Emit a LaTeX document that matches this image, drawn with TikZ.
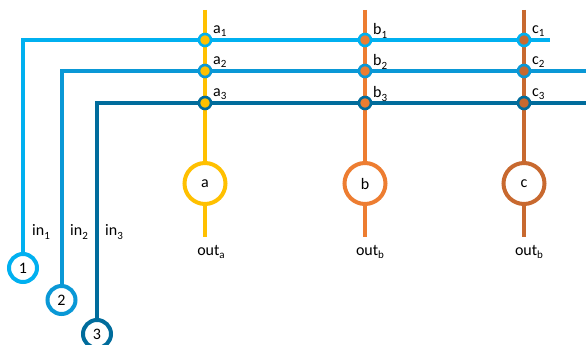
\documentclass[tikz,border=0pt]{standalone}
\usepackage{fontspec}
\setmainfont{Carlito}
\newcommand\sbs[1]{\raisebox{-0.45ex}{\fontsize{11}{11}\selectfont #1}}
\definecolor{cin1}{HTML}{00B0F0}
\definecolor{cin2}{HTML}{0A98D6}
\definecolor{cin3}{HTML}{006C9C}
\definecolor{ca}{HTML}{FFC000}
\definecolor{cb}{HTML}{ED7D31}
\definecolor{cc}{HTML}{C8692F}
\begin{document}
\begin{tikzpicture}[x=1pt,y=-1pt,
  wire/.style={line width=4pt},
  bigc/.style={circle,draw,line width=4pt,fill=white,minimum size=41pt,inner sep=0pt,font=\fontsize{16}{16}\selectfont},
  inc/.style={circle,draw,line width=4pt,fill=white,minimum size=28pt,inner sep=0pt,font=\fontsize{16}{16}\selectfont},
  jdot/.style={circle,line width=2.6pt,minimum size=12pt,inner sep=0pt},
  lbl/.style={inner sep=0pt,font=\fontsize{16}{16}\selectfont}]
\useasboundingbox (0,0) rectangle (586,345);
% coordinates
\foreach \n/\x in {a/205,b/365,c/524}{
  \coordinate (t\n) at (\x,10);
  \coordinate (\n1) at (\x,40);
  \coordinate (\n2) at (\x,71);
  \coordinate (\n3) at (\x,103);
  \coordinate (o\n) at (\x,237);
}
\coordinate (e1) at (550,40);
\coordinate (e2) at (586,71);
\coordinate (e3) at (586,103);
% big circles
\node[bigc,draw=ca] (na) at (205,183.5) {a};
\node[bigc,draw=cb] (nb) at (365,183.5) {b};
\node[bigc,draw=cc] (nc) at (524,183.5) {c};
% input circles
\node[inc,draw=cin1] (n1) at (23,268) {1};
\node[inc,draw=cin2] (n2) at (61.5,300) {2};
\node[inc,draw=cin3] (n3) at (97,334) {3};
% vertical wires
\draw[wire,ca] (ta) -- (a1) -- (a2) -- (a3) -- (na) -- (oa);
\draw[wire,cb] (tb) -- (b1) -- (b2) -- (b3) -- (nb) -- (ob);
\draw[wire,cc] (tc) -- (c1) -- (c2) -- (c3) -- (nc) -- (oc);
% horizontal wires
\draw[wire,cin1] (n1) |- (a1) -- (b1) -- (c1) -- (e1);
\draw[wire,cin2] (n2) |- (a2) -- (b2) -- (c2) -- (e2);
\draw[wire,cin3] (n3) |- (a3) -- (b3) -- (c3) -- (e3);
% junction dots
\foreach \n/\cv in {a/ca,b/cb,c/cc}{
  \node[jdot,draw=cin1,fill=\cv] (d\n1) at (\n1) {};
  \node[jdot,draw=cin2,fill=\cv] (d\n2) at (\n2) {};
  \node[jdot,draw=cin3,fill=\cv] (d\n3) at (\n3) {};
}
% junction labels
\foreach \n in {a,b,c}{
  \node[lbl,anchor=west] (l\n1) at ([xshift=8pt,yshift=9pt]\n1) {\n\sbs{1}};
  \node[lbl,anchor=west] (l\n2) at ([xshift=8pt,yshift=9pt]\n2) {\n\sbs{2}};
  \node[lbl,anchor=west] (l\n3) at ([xshift=8pt,yshift=9pt]\n3) {\n\sbs{3}};
}
% input labels
\node[lbl] (li1) at (41,232) {in\sbs{1}};
\node[lbl] (li2) at (79,232) {in\sbs{2}};
\node[lbl] (li3) at (114,232) {in\sbs{3}};
% output labels
\node[lbl] (loa) at (211,252) {out\sbs{a}};
\node[lbl] (lob) at (370,252) {out\sbs{b}};
\node[lbl] (loc) at (529,252) {out\sbs{b}};
\end{tikzpicture}
\end{document}
